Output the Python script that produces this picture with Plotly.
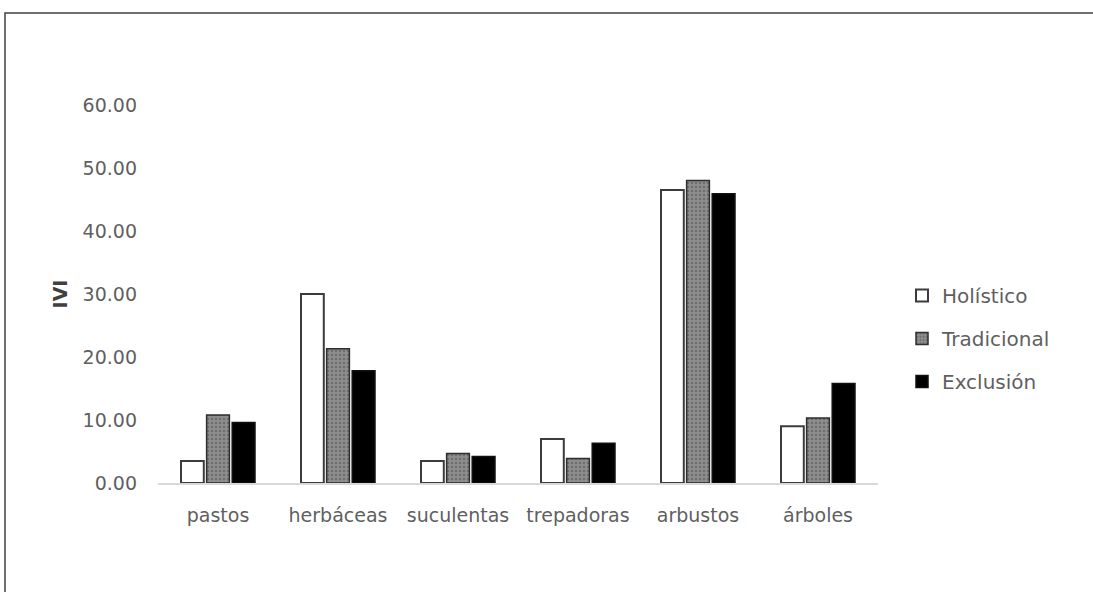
import plotly.graph_objects as go

categories = ["pastos", "herbáceas", "suculentas", "trepadoras", "arbustos", "árboles"]
holistico = [3.5, 30.0, 3.5, 7.0, 46.5, 9.0]
tradicional = [10.8, 21.3, 4.7, 3.9, 48.0, 10.3]
exclusion = [9.6, 17.8, 4.2, 6.3, 45.9, 15.8]
y_ticks = [0, 10, 20, 30, 40, 50, 60]
y_tick_labels = ["0.00", "10.00", "20.00", "30.00", "40.00", "50.00", "60.00"]

W, H = 1093, 592
L, R, T, B = 158, 1093 - 878, 105, 592 - 483
pw, ph = W - L - R, H - T - B

def px_x(p):
    return (p - L) / pw

def px_y(p):
    return (H - B - p) / ph

font_family = "DejaVu Sans, Verdana, sans-serif"
grey_text = "#5f5f5f"

fig = go.Figure()
fig.add_trace(go.Bar(
    x=categories, y=holistico, name="Holístico", legendgroup="a",
    marker=dict(color="white", line=dict(color="#3c3c3c", width=2)),
))
fig.add_trace(go.Bar(
    x=categories, y=tradicional, name="Tradicional", legendgroup="b",
    marker=dict(color="#858585", line=dict(color="#2e2e2e", width=1.5),
                pattern=dict(shape=".", bgcolor="#8e8e8e", fgcolor="#4e4e4e", size=4, solidity=0.35)),
))
fig.add_trace(go.Bar(
    x=categories, y=exclusion, name="Exclusión", legendgroup="c",
    marker=dict(color="black", line=dict(color="#111111", width=1.5)),
))

fig.update_layout(
    width=W, height=H,
    margin=dict(l=L, r=R, t=T, b=B, autoexpand=False),
    paper_bgcolor="white", plot_bgcolor="white",
    barmode="group", bargap=0.36, bargroupgap=0.11,
    font=dict(family=font_family, size=19, color=grey_text),
    showlegend=True,
    legend=dict(x=px_x(902), y=px_y(276), xanchor="left", yanchor="top",
                font=dict(size=20, color=grey_text), tracegroupgap=14,
                bgcolor="rgba(0,0,0,0)"),
    xaxis=dict(showgrid=False, showline=True, linecolor="#d9d9d9", linewidth=1.5,
               ticks="", ticklabelstandoff=14, tickfont=dict(size=19, color=grey_text),
               zeroline=False),
    yaxis=dict(range=[0, 60], tickvals=y_ticks, ticktext=y_tick_labels,
               showgrid=False, showline=False, zeroline=False, ticks="",
               ticklabelstandoff=20, tickfont=dict(size=19, color=grey_text),
               title=dict(text="<b>IVI</b>", standoff=9,
                          font=dict(size=19, color="#404040"))),
    shapes=[dict(type="path", xref="paper", yref="paper",
                 path=f"M {px_x(1100)} {px_y(13)} L {px_x(5)} {px_y(13)} L {px_x(5)} {px_y(600)}",
                 line=dict(color="#404040", width=1.5))],
)

fig.write_html("out.html", config={"displayModeBar": False},
               post_script="document.body.style.margin='0';")
